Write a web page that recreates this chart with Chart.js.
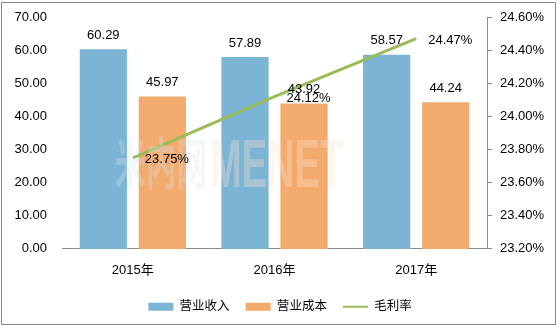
<!DOCTYPE html>
<html>
<head>
<meta charset="utf-8">
<script src="https://cdn.jsdelivr.net/npm/chart.js@4"></script>
<style>
  html, body { margin: 0; padding: 0; background: #fff; }
  #wrap { position: relative; width: 560px; height: 328px; }
  #frame { position: absolute; left: 1px; top: 2px; width: 553px; height: 321px; border: 1px solid #8a8a8a; pointer-events: none; }
</style>
</head>
<body>
<div id="wrap">
  <canvas id="c" width="560" height="328"></canvas>
  <div id="frame"></div>
</div>
<script>
const years = ['2015年', '2016年', '2017年'];
const revenue = [60.29, 57.89, 58.57];
const cost = [45.97, 43.92, 44.24];
const margin = [23.75, 24.12, 24.47];

const FONT = "'Liberation Sans', 'Noto Sans CJK SC', sans-serif";

// faint watermark over the plot, like the source image
const watermark = {
    id: 'watermark',
    afterDatasetsDraw(chart) {
        const ctx = chart.ctx;
        ctx.save();
        ctx.textBaseline = 'alphabetic';
        ctx.textAlign = 'left';
        ctx.save();
        ctx.translate(115, 184);
        ctx.scale(0.55, 1);
        ctx.font = "bold 56px 'Noto Sans CJK SC'";
        ctx.fillStyle = 'rgba(215, 230, 240, 0.3)';
        ctx.fillText('米内网', 0, 0);
        ctx.restore();
        ctx.save();
        ctx.translate(210, 187);
        ctx.scale(0.56, 1);
        ctx.font = "bold 68px 'Liberation Sans'";
        ctx.fillStyle = 'rgba(252, 225, 205, 0.35)';
        ctx.fillText('MENET', 0, 0);
        ctx.restore();
        ctx.restore();
    }
};

// value labels, drawn by hand since only Chart.js itself is available
const valueLabels = {
    id: 'valueLabels',
    afterDatasetsDraw(chart) {
        const ctx = chart.ctx;
        ctx.save();
        ctx.font = '13px ' + FONT;
        ctx.fillStyle = '#000';
        chart.data.datasets.forEach((ds, i) => {
            const meta = chart.getDatasetMeta(i);
            meta.data.forEach((el, j) => {
                if (ds.type === 'line') {
                    ctx.textAlign = 'left';
                    ctx.textBaseline = 'middle';
                    ctx.fillText(ds.data[j].toFixed(2) + '%', el.x + 12, el.y + 2);
                } else {
                    ctx.textAlign = 'center';
                    ctx.textBaseline = 'middle';
                    ctx.fillText(ds.data[j].toFixed(2), el.x, el.y - 14);
                }
            });
        });
        ctx.restore();
    }
};

const ctx = document.getElementById('c');
new Chart(ctx, {
    data: {
        labels: years,
        datasets: [{
            type: 'bar',
            label: '营业收入',
            data: revenue,
            backgroundColor: '#7bb4d5',
            yAxisID: 'y',
            order: 1
        }, {
            type: 'bar',
            label: '营业成本',
            data: cost,
            backgroundColor: '#f3aa6d',
            yAxisID: 'y',
            order: 1
        }, {
            type: 'line',
            label: '毛利率',
            data: margin,
            borderColor: '#9bbb59',
            backgroundColor: '#9bbb59',
            borderWidth: 3,
            pointRadius: 0,
            yAxisID: 'y1',
            order: 0
        }]
    },
    options: {
        responsive: false,
        animation: false,
        events: [],
        categoryPercentage: 0.833,
        barPercentage: 0.8,
        layout: { padding: { top: 17, left: 0, right: 0, bottom: 5 } },
        plugins: {
            tooltip: { enabled: false },
            legend: {
                position: 'bottom',
                labels: {
                    usePointStyle: true,
                    pointStyleWidth: 25,
                    boxHeight: 8,
                    padding: 16,
                    color: '#000',
                    font: { family: FONT, size: 12.5 },
                    sort: (a, b) => a.datasetIndex - b.datasetIndex,
                    generateLabels(chart) {
                        const items = Chart.defaults.plugins.legend.labels.generateLabels(chart);
                        items.forEach(it => {
                            const ds = chart.data.datasets[it.datasetIndex];
                            if (ds.type === 'line') {
                                it.pointStyle = 'line';
                                it.lineWidth = 2;
                                it.strokeStyle = '#9bbb59';
                            } else {
                                it.pointStyle = 'rect';
                                it.lineWidth = 0;
                            }
                        });
                        return items;
                    }
                }
            }
        },
        scales: {
            x: {
                grid: { display: false },
                border: { color: '#8c8c8c' },
                ticks: { color: '#000', padding: 6, font: { family: FONT, size: 13 } }
            },
            y: {
                min: 0,
                max: 70,
                position: 'left',
                grid: { display: false, drawTicks: false },
                border: { display: false },
                ticks: {
                    stepSize: 10,
                    padding: 15,
                    color: '#000',
                    font: { family: FONT, size: 13 },
                    callback: v => v.toFixed(2)
                },
                afterFit(s) { s.width = 62; s.paddingTop = 0; s.paddingBottom = 0; }
            },
            y1: {
                min: 23.2,
                max: 24.6,
                position: 'right',
                grid: { drawOnChartArea: false, drawTicks: true, tickLength: 5, color: '#8c8c8c' },
                border: { color: '#8c8c8c' },
                ticks: {
                    stepSize: 0.2,
                    padding: 8,
                    color: '#000',
                    font: { family: FONT, size: 13 },
                    callback: v => v.toFixed(2) + '%'
                },
                afterFit(s) { s.width = 73; s.paddingTop = 0; s.paddingBottom = 0; }
            }
        }
    },
    plugins: [watermark, valueLabels]
});
</script>
</body>
</html>
